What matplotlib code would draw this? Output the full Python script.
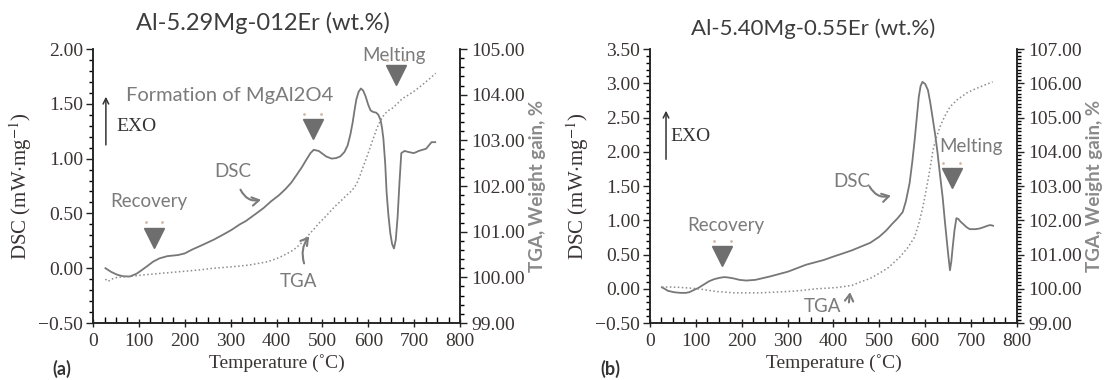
import numpy as np
import matplotlib
matplotlib.use('Agg')
import matplotlib.pyplot as plt
from matplotlib.ticker import MultipleLocator, FuncFormatter
from matplotlib.transforms import offset_copy

plt.rcParams['mathtext.fontset'] = 'stix'

# sample (a): Al-5.29Mg-0.12Er
dsc_a_T = [27, 40, 53, 65, 80, 95, 107, 120, 131, 145, 162, 185, 200, 216, 240, 263, 283, 302,
           320, 333, 356, 372, 388, 405, 419, 432, 442, 455, 465, 474, 481, 492, 500, 508, 520,
           530, 539, 548, 555, 561, 566, 570, 574, 579, 584, 589, 594, 600, 605, 611, 617, 622,
           627, 630, 633, 637, 640, 644, 648, 652, 656, 660, 664, 668, 672, 679, 688, 699, 705,
           710, 718, 726, 732, 738, 746]
dsc_a = [0.00, -0.035, -0.06, -0.073, -0.076, -0.05, -0.015, 0.025, 0.06, 0.09, 0.11, 0.12,
         0.135, 0.17, 0.215, 0.26, 0.305, 0.35, 0.40, 0.43, 0.50, 0.55, 0.61, 0.665, 0.72, 0.78,
         0.84, 0.92, 0.99, 1.05, 1.08, 1.07, 1.045, 1.02, 1.00, 1.005, 1.02, 1.06, 1.12, 1.22,
         1.33, 1.44, 1.54, 1.61, 1.64, 1.62, 1.57, 1.49, 1.44, 1.425, 1.42, 1.40, 1.35, 1.28,
         1.18, 0.95, 0.69, 0.48, 0.32, 0.22, 0.18, 0.26, 0.47, 0.78, 1.05, 1.07, 1.06, 1.05,
         1.06, 1.07, 1.08, 1.09, 1.12, 1.15, 1.15]
tga_a_T = [27, 33, 40, 53, 80, 107, 150, 185, 230, 263, 302, 341, 380, 405, 419, 432, 442, 452,
           461, 471, 481, 492, 504, 516, 528, 540, 551, 562, 570, 576, 582, 590, 598, 606, 613,
           619, 625, 631, 637, 645, 652, 663, 675, 687, 699, 711, 722, 735, 747]
tga_a = [99.96, 99.91, 99.96, 100.00, 100.02, 100.05, 100.09, 100.12, 100.16, 100.20, 100.23,
         100.27, 100.34, 100.43, 100.50, 100.57, 100.64, 100.73, 100.83, 100.94, 101.05, 101.18,
         101.30, 101.43, 101.56, 101.67, 101.78, 101.88, 101.97, 102.08, 102.23, 102.45, 102.67,
         102.90, 103.10, 103.27, 103.40, 103.51, 103.59, 103.66, 103.70, 103.80, 103.92, 103.99,
         104.07, 104.16, 104.25, 104.36, 104.47]

# sample (b): Al-5.40Mg-0.55Er
dsc_b_T = [26, 32, 39, 52, 66, 78, 86, 95, 105, 117, 129, 140, 152, 162, 170, 183, 195, 210,
           230, 262, 301, 340, 379, 400, 418, 440, 458, 480, 500, 515, 527, 540, 551, 558, 566,
           572, 577, 582, 586, 590, 594, 600, 606, 611, 617, 622, 627, 632, 638, 643, 647, 651,
           654, 657, 660, 664, 668, 672, 677, 682, 690, 697, 710, 719, 728, 736, 742, 748]
dsc_b = [0.02, 0.00, -0.03, -0.05, -0.06, -0.06, -0.05, -0.02, 0.01, 0.06, 0.11, 0.14, 0.16,
         0.17, 0.165, 0.15, 0.13, 0.12, 0.13, 0.18, 0.25, 0.35, 0.42, 0.47, 0.51, 0.56, 0.61,
         0.67, 0.76, 0.85, 0.94, 1.03, 1.12, 1.28, 1.54, 1.86, 2.17, 2.52, 2.80, 2.96, 3.02,
         2.99, 2.90, 2.72, 2.46, 2.24, 1.98, 1.68, 1.34, 0.98, 0.71, 0.45, 0.27, 0.40, 0.61,
         0.86, 1.03, 1.02, 0.98, 0.95, 0.90, 0.87, 0.87, 0.88, 0.90, 0.92, 0.93, 0.92]
tga_b_T = [26, 45, 66, 86, 105, 125, 144, 165, 183, 210, 238, 270, 301, 330, 363, 390, 410, 441,
           459, 480, 501, 520, 545, 562, 577, 586, 595, 601, 606, 612, 617, 624, 632, 642, 654,
           670, 691, 710, 730, 747]
tga_b = [100.05, 100.05, 100.04, 100.02, 100.00, 99.96, 99.92, 99.90, 99.88, 99.88, 99.88,
         99.90, 99.92, 99.95, 100.00, 100.02, 100.04, 100.10, 100.20, 100.30, 100.46, 100.62,
         100.93, 101.20, 101.51, 101.90, 102.39, 102.80, 103.17, 103.62, 104.05, 104.40, 104.72,
         105.02, 105.31, 105.52, 105.72, 105.84, 105.95, 106.04]

titles = ['Al-5.29Mg-012Er (wt.%)', 'Al-5.40Mg-0.55Er (wt.%)']
panel_tags = ['(a)', '(b)']

SERIF = 'Liberation Serif'
SANS = 'Lato'
TXT = '#7b7b7b'
LINE = '#777777'
TICKC = '#3a3434'

fig = plt.figure(figsize=(11.05, 3.8), dpi=100)
ax_a = fig.add_axes([0.0842, 0.15, 0.3321, 0.721])
ax_b = fig.add_axes([0.5882, 0.15, 0.3321, 0.721])

fmt = FuncFormatter(lambda v, p: ('%.2f' % v).replace('-', '\u2212'))


def style_axes(ax, ax2, ylim, y2lim, y2minor):
    ax.set_xlim(0, 800)
    ax.set_ylim(*ylim)
    ax2.set_ylim(*y2lim)
    ax.xaxis.set_major_locator(MultipleLocator(100))
    ax.xaxis.set_minor_locator(MultipleLocator(25))
    ax.yaxis.set_major_locator(MultipleLocator(0.5))
    ax.yaxis.set_minor_locator(MultipleLocator(0.1))
    ax.yaxis.set_major_formatter(fmt)
    ax2.yaxis.set_major_locator(MultipleLocator(1))
    ax2.yaxis.set_minor_locator(MultipleLocator(y2minor))
    ax2.yaxis.set_major_formatter(fmt)
    for a in (ax, ax2):
        a.spines['top'].set_visible(False)
        for s in a.spines.values():
            s.set_linewidth(1.1)
            s.set_color('#222222')
    ax.tick_params(axis='x', which='major', direction='inout', length=6, width=1, pad=4)
    ax.tick_params(axis='x', which='minor', direction='in', length=4, width=1)
    ax.tick_params(axis='y', which='major', direction='out', length=5, width=1, pad=2)
    ax.tick_params(axis='y', which='minor', direction='out', length=3, width=1)
    ax2.tick_params(axis='y', which='major', direction='out', length=5, width=1, pad=3)
    ax2.tick_params(axis='y', which='minor', direction='out', length=3, width=1)
    for a in (ax, ax2):
        a.tick_params(labelsize=14, labelcolor=TICKC, colors='#222222')
        for lab in a.get_xticklabels() + a.get_yticklabels():
            lab.set_family(SERIF)
    ax.set_xlabel('Temperature (\u02daC)', family=SERIF, fontsize=14, color=TICKC, labelpad=3)
    ax.set_ylabel(r'DSC (mW$\cdot$mg$^{-1}$)', family=SERIF, fontsize=15, color=TICKC, labelpad=3)
    ax2.set_ylabel('TGA, Weight gain, %', family=SANS, fontsize=13.5, fontweight='bold',
                   color='#8a8a8a', labelpad=3)


def marker(ax, x, y):
    ax.plot([x], [y], marker='v', markersize=15, color='#6e6e6e', linestyle='none', zorder=4)
    # small dotted caps above the corners of each marker
    for dx in (-6, 6):
        tr = offset_copy(ax.transData, fig=fig, x=dx, y=11, units='points')
        ax.plot([x], [y], marker='.', markersize=2, color='#d2b8a8', linestyle='none',
                transform=tr, zorder=4)


def note(ax, s, x, y, size=13.5, **kw):
    ax.text(x, y, s, family=SANS, fontsize=size, color=TXT, ha='center', va='center', **kw)


# ---- panel (a)
ax_a2 = ax_a.twinx()
ax_a.plot(dsc_a_T, dsc_a, color=LINE, lw=1.3, zorder=3)
ax_a2.plot(tga_a_T, tga_a, color='#8c8c8c', lw=1.1, linestyle=(0, (1, 1.6)))
style_axes(ax_a, ax_a2, (-0.5, 2.0), (99, 105), 0.2)

note(ax_a, 'Formation of MgAl2O4', 298, 1.58, size=14.5)
note(ax_a, 'Melting', 655, 1.94)
note(ax_a, 'Recovery', 121, 0.61)
note(ax_a, 'DSC', 304, 0.88)
note(ax_a, 'TGA', 448, -0.12)
ax_a.text(94, 1.29, 'EXO', family=SERIF, fontsize=14, color='#333333', ha='center', va='center')
ax_a.annotate('', xy=(28, 1.59), xytext=(28, 1.10),
              arrowprops=dict(arrowstyle='->', color='#333333', lw=1.1))
ax_a.annotate('', xy=(372, 0.63), xytext=(319, 0.74),
              arrowprops=dict(arrowstyle='->,head_length=0.5,head_width=0.3', color=TXT, lw=1.5,
                              connectionstyle='arc3,rad=0.45'))
ax_a.annotate('', xy=(475, 0.31), xytext=(462, 0.02),
              arrowprops=dict(arrowstyle='->,head_length=0.5,head_width=0.3', color=TXT, lw=1.5,
                              connectionstyle='arc3,rad=-0.3'))
marker(ax_a, 133, 0.28)
marker(ax_a, 479, 1.27)
marker(ax_a, 660, 1.76)

# ---- panel (b)
ax_b2 = ax_b.twinx()
ax_b.plot(dsc_b_T, dsc_b, color=LINE, lw=1.3, zorder=3)
ax_b2.plot(tga_b_T, tga_b, color='#8c8c8c', lw=1.1, linestyle=(0, (1, 1.6)))
style_axes(ax_b, ax_b2, (-0.5, 3.5), (99, 107), 0.1)

note(ax_b, 'Recovery', 166, 0.93)
note(ax_b, 'Melting', 700, 2.08)
note(ax_b, 'DSC', 439, 1.57)
note(ax_b, 'TGA', 376, -0.26)
ax_b.text(88, 2.22, 'EXO', family=SERIF, fontsize=14, color='#333333', ha='center', va='center')
ax_b.annotate('', xy=(35, 2.64), xytext=(35, 1.85),
              arrowprops=dict(arrowstyle='->', color='#333333', lw=1.1))
ax_b.annotate('', xy=(531, 1.37), xytext=(476, 1.53),
              arrowprops=dict(arrowstyle='->,head_length=0.5,head_width=0.3', color=TXT, lw=1.5,
                              connectionstyle='arc3,rad=0.45'))
ax_b.annotate('', xy=(437, -0.01), xytext=(433, -0.24),
              arrowprops=dict(arrowstyle='->,head_length=0.5,head_width=0.3', color=TXT, lw=1.5))
marker(ax_b, 158, 0.48)
marker(ax_b, 658, 1.62)

fig.text(0.238, 0.94, titles[0], family=SANS, fontsize=17, color='#3d3d3d', ha='center', va='center')
fig.text(0.736, 0.925, titles[1], family=SANS, fontsize=16, color='#3d3d3d', ha='center', va='center')
fig.text(0.056, 0.03, panel_tags[0], family=SANS, fontsize=13, fontweight='bold', color='#333333', ha='center', va='center')
fig.text(0.552, 0.03, panel_tags[1], family=SANS, fontsize=13, fontweight='bold', color='#333333', ha='center', va='center')

fig.savefig('out.png', dpi=100)
